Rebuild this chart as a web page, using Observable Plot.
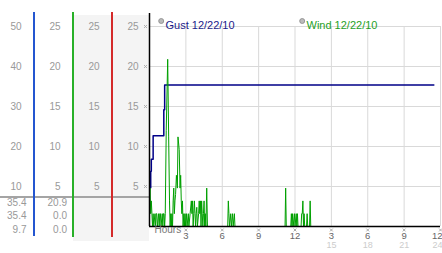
<!DOCTYPE html>
<html>
<head>
<meta charset="utf-8">
<script src="https://cdn.jsdelivr.net/npm/d3@7"></script>
<script src="https://cdn.jsdelivr.net/npm/@observablehq/plot@0.6"></script>
<style>
  html, body { margin: 0; padding: 0; background: #fff; }
  #wrap { position: relative; width: 442px; height: 253px; overflow: hidden; font-family: "Liberation Sans", Arial, sans-serif; }
  #wrap .deco { position: absolute; }
  #chart { position: absolute; left: 0; top: 0; }
</style>
</head>
<body>
<div id="wrap">
  <div class="deco" style="left:73px;top:15px;width:76px;height:226px;background:#f4f4f4"></div>
  <div class="deco" style="left:0px;top:196px;width:149px;height:2px;background:#a4a4a4"></div>
  <div class="deco" style="left:33px;top:12px;width:1.5px;height:224px;background:#2456d0"></div>
  <div class="deco" style="left:72px;top:12px;width:1.5px;height:225px;background:#28b028"></div>
  <div class="deco" style="left:111px;top:12px;width:1.5px;height:225px;background:#d42a2a"></div>
  <div id="chart"></div>
</div>
<script>
// Series labels and colours
const seriesNames = ["Gust 12/22/10", "Wind 12/22/10"];
const seriesColors = ["#000088", "#00a000"];
const legendColors = ["#1a1a8a", "#1f9f1f"];

// Tick values
const xTicks = [3, 6, 9, 12, 15, 18, 21, 24];
const gustTicks = [10, 20, 30, 40, 50];
const windTicks = [5, 10, 15, 20, 25];

// Gust readings: [hour, mph]
const gustReadings = [
  [0.08, 9.7], [0.10, 13.8], [0.15, 16.8], [0.30, 22.7],
  [1.18, 29.2], [1.25, 35.4], [23.45, 35.4]
];

// Wind readings: [hour, mph]
const windReadings = [
  [0.00, 3.2], [0.05, 4.8], [0.10, 1.6], [0.15, 3.2], [0.20, 1.6], [0.25, 0], [0.30, 1.6], [0.35, 0],
  [0.45, 1.6], [0.50, 0], [0.55, 1.6], [0.60, 1.6], [0.65, 0], [0.75, 1.6], [0.80, 0], [0.85, 1.6],
  [0.90, 1.6], [0.95, 0], [1.05, 1.6], [1.10, 0], [1.15, 1.6], [1.20, 1.6], [1.25, 0], [1.30, 1.6],
  [1.38, 12.0], [1.50, 20.9], [1.58, 11.2], [1.65, 3.2], [1.70, 0], [1.75, 1.6], [1.80, 0], [1.85, 1.6],
  [1.90, 0], [1.95, 3.2], [2.00, 4.8], [2.05, 1.6], [2.10, 3.2], [2.15, 4.0], [2.22, 6.4], [2.30, 4.8],
  [2.35, 11.2], [2.45, 9.6], [2.52, 4.8], [2.57, 6.4], [2.62, 3.2], [2.67, 1.6], [2.72, 3.2], [2.77, 0],
  [2.83, 1.6], [2.88, 0], [2.93, 1.6], [2.98, 0], [3.05, 1.6], [3.10, 0], [3.20, 1.6], [3.25, 0],
  [3.35, 1.6], [3.45, 3.2], [3.50, 1.6], [3.55, 3.2], [3.60, 0], [3.65, 1.6], [3.70, 3.2], [3.75, 1.6],
  [3.80, 0], [3.85, 1.6], [3.90, 2.4], [3.95, 0], [4.05, 1.6], [4.10, 3.2], [4.15, 1.6], [4.20, 3.2],
  [4.25, 0], [4.30, 3.2], [4.35, 1.6], [4.40, 0], [4.45, 1.6], [4.50, 3.2], [4.55, 0], [4.60, 1.6],
  [4.65, 0], [4.72, 4.8], [4.78, 0],
  [6.45, 0], [6.50, 3.2], [6.55, 1.6], [6.60, 0], [6.70, 1.6], [6.75, 0], [6.85, 1.6], [6.90, 0],
  [7.00, 1.6], [7.05, 0],
  [11.18, 0], [11.23, 4.8], [11.28, 0], [11.65, 0], [11.70, 1.6], [11.75, 0], [11.80, 1.6], [11.85, 0],
  [11.95, 1.6], [12.00, 0], [12.10, 1.6], [12.15, 0], [12.20, 1.6], [12.25, 0], [12.50, 0], [12.55, 1.6],
  [12.60, 1.6], [12.65, 3.2], [12.70, 0], [12.75, 1.6], [12.80, 0], [12.95, 0], [13.00, 1.6], [13.05, 0],
  [13.20, 0], [13.25, 3.2], [13.30, 0], [23.45, 0]
];

const fmt = d3.format(".1f");
const stat = (rows) => {
  const v = rows.map(r => r[1]);
  return [fmt(d3.max(v)), fmt(v[v.length - 1]), fmt(d3.min(v))];
};
const gustStats = stat(gustReadings);
const windStats = stat(windReadings);
const statDy = [-21, -7.5, 6];

const gray = "#999";
const lastTick = xTicks[xTicks.length - 1];
const hourLabel = d => (d > 12 ? d - 12 : d);

const chart = Plot.plot({
  width: 442,
  height: 253,
  marginLeft: 149,
  marginRight: 2,
  marginTop: 26,
  marginBottom: 27,
  x: { domain: [0, 24], axis: null },
  y: { domain: [0, 50], axis: null },
  style: { background: "transparent", fontFamily: "'Liberation Sans', Arial, sans-serif", fontSize: "10px", overflow: "visible" },
  marks: [
    Plot.ruleX(xTicks, { stroke: "#d9d9d9" }),
    Plot.ruleY(gustTicks, { stroke: "#d9d9d9" }),
    Plot.line(gustReadings, { x: d => d[0], y: d => d[1], curve: "step-after", stroke: seriesColors[0], strokeWidth: 1.5 }),
    Plot.line(windReadings, { x: d => d[0], y: d => d[1] * 2, stroke: seriesColors[1], strokeWidth: 1 }),
    Plot.ruleY([0], { stroke: "black", strokeWidth: 1.5 }),
    Plot.ruleX([0], { stroke: "black", strokeWidth: 1.5, insetTop: -13 }),
    // left tick columns
    Plot.text(gustTicks, { y: d => d, text: d => d, frameAnchor: "left", textAnchor: "end", dx: -128, fill: gray }),
    ...[-89, -50, -11].map(dx =>
      Plot.text(windTicks, { y: d => d * 2, text: d => d, frameAnchor: "left", textAnchor: "end", dx, fill: gray })
    ),
    Plot.dot(gustTicks, { y: d => d, frameAnchor: "left", dx: -4, symbol: "times", r: 1.4, stroke: "#aaa", strokeWidth: 1 }),
    // bottom ticks
    Plot.dot(xTicks, { x: d => d, frameAnchor: "bottom", dy: 3.5, symbol: "times", r: 1.4, stroke: "#aaa", strokeWidth: 1 }),
    Plot.text(xTicks.filter(d => d !== lastTick), { x: d => d, text: hourLabel, frameAnchor: "bottom", dy: 12, fill: "#666", fontSize: 9.5 }),
    Plot.text([lastTick], { x: d => d, text: hourLabel, frameAnchor: "bottom", textAnchor: "end", dx: 2, dy: 12, fill: "#666", fontSize: 9.5 }),
    Plot.text(xTicks.filter(d => d > 12 && d !== lastTick), { x: d => d, text: d => d, frameAnchor: "bottom", dy: 21.5, fill: "#ccc", fontSize: 9 }),
    Plot.text([lastTick], { x: d => d, text: d => d, frameAnchor: "bottom", textAnchor: "end", dx: 2, dy: 21.5, fill: "#ccc", fontSize: 9 }),
    Plot.text(["Hours"], { frameAnchor: "bottom-left", textAnchor: "start", dx: 5, dy: 6, fill: "#777" }),
    // stats
    ...gustStats.map((s, i) => Plot.text([s], { frameAnchor: "bottom-left", textAnchor: "end", dx: -123, dy: statDy[i], fill: gray })),
    ...windStats.map((s, i) => Plot.text([s], { frameAnchor: "bottom-left", textAnchor: "end", dx: -82.5, dy: statDy[i], fill: gray })),
    // legend
    ...seriesNames.map((name, i) => Plot.dot([name], { frameAnchor: "top-left", dx: [11.7, 152.7][i], dy: -5.5, r: 2.5, fill: "#bbb", stroke: "#888", strokeWidth: 0.8 })),
    ...seriesNames.map((name, i) => Plot.text([name], { text: d => d, frameAnchor: "top-left", textAnchor: "start", dx: [16, 157][i], dy: -5.5, fill: legendColors[i], fontSize: 11 }))
  ]
});
document.getElementById("chart").appendChild(chart);
</script>
</body>
</html>
